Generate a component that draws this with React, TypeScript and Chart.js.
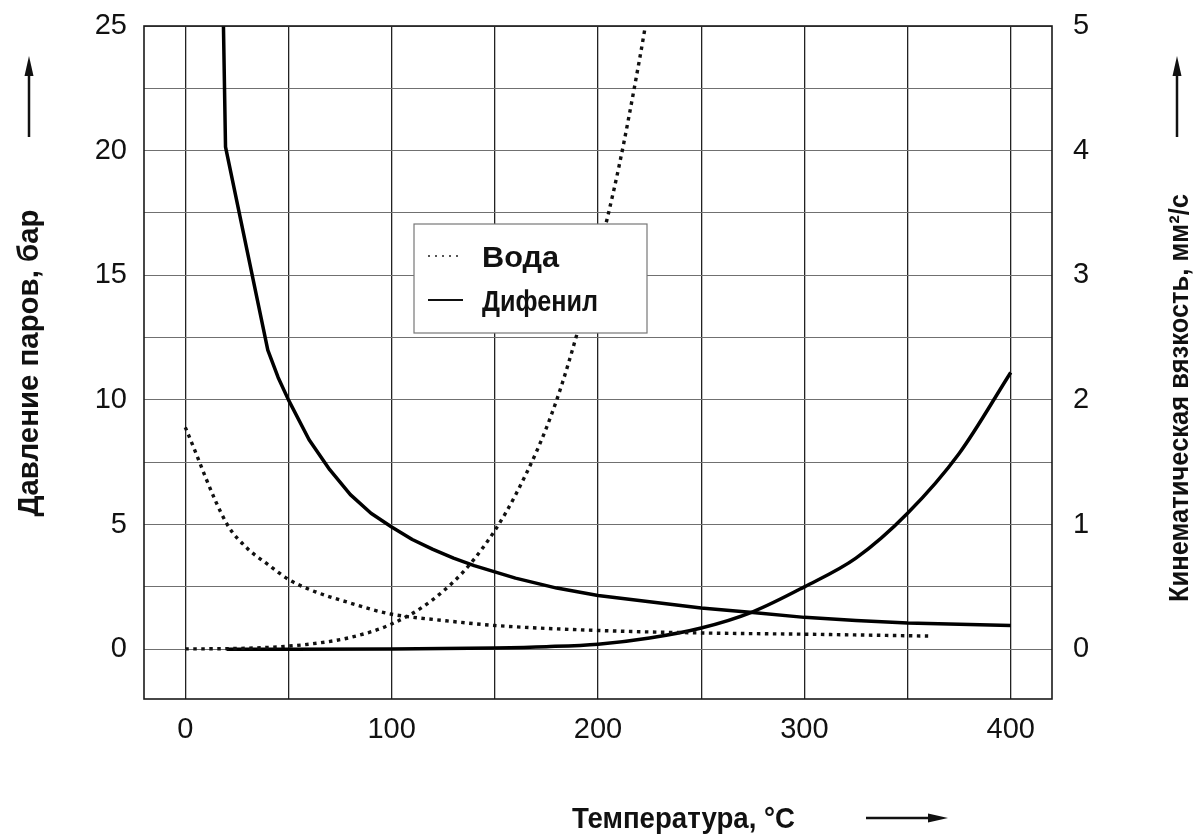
import React, { useEffect, useRef } from "react";
import { Chart, registerables } from "chart.js";

Chart.register(...registerables);

// ---------- data ----------
const waterPressureT = [0, 20, 40, 60, 80, 100, 120, 140, 160, 180, 200, 210, 220, 225];
const waterPressure = [0.01, 0.02, 0.07, 0.2, 0.47, 1.01, 1.99, 3.61, 6.18, 10.0, 15.8, 19.3, 23.6, 26.0];

const waterViscT = [0, 20, 30, 40, 50, 60, 70, 80, 90, 100, 125, 150, 200, 250, 300, 360];
const waterVisc = [1.78, 1.01, 0.81, 0.68, 0.56, 0.48, 0.42, 0.37, 0.32, 0.28, 0.23, 0.19, 0.15, 0.13, 0.12, 0.105];

const diphViscT = [18.5, 19.5, 40, 45, 50, 60, 70, 80, 90, 100, 110, 120, 130, 140, 150, 160, 180, 200, 225, 250, 275, 300, 325, 350, 375, 400];
const diphVisc = [5.0, 4.03, 2.4, 2.18, 2.0, 1.68, 1.44, 1.24, 1.09, 0.98, 0.88, 0.8, 0.73, 0.67, 0.62, 0.57, 0.49, 0.43, 0.38, 0.33, 0.295, 0.255, 0.23, 0.21, 0.2, 0.19];

const diphPressT = [20, 50, 100, 150, 175, 200, 225, 250, 275, 300, 325, 350, 375, 400];
const diphPress = [0, 0, 0.01, 0.05, 0.1, 0.2, 0.45, 0.85, 1.5, 2.5, 3.65, 5.45, 7.85, 11.1];

const legendLabels = ["Вода", "Дифенил"];
const xTitle = "Температура, °C";
const yTitle = "Давление паров, бар";
const y1Title = "Кинематическая вязкость, мм²/с";

const toPoints = (xs: number[], ys: number[]) => xs.map((x, i) => ({ x, y: ys[i] }));

const SANS = "'Liberation Sans', Arial, Helvetica, sans-serif";

function fillFitted(
  ctx: CanvasRenderingContext2D,
  text: string,
  x: number,
  y: number,
  targetWidth: number,
  font: string,
  align: CanvasTextAlign,
  rotate = 0
) {
  ctx.save();
  ctx.font = font;
  const w = ctx.measureText(text).width || 1;
  ctx.translate(x, y);
  if (rotate) ctx.rotate(rotate);
  ctx.scale(targetWidth / w, 1);
  ctx.textAlign = align;
  ctx.textBaseline = "alphabetic";
  ctx.fillStyle = "#111";
  ctx.fillText(text, 0, 0);
  ctx.restore();
}

function drawArrow(ctx: CanvasRenderingContext2D, x1: number, y1: number, x2: number, y2: number) {
  const ang = Math.atan2(y2 - y1, x2 - x1);
  const headLen = 20;
  const headW = 4.5;
  ctx.save();
  ctx.strokeStyle = "#111";
  ctx.fillStyle = "#111";
  ctx.lineWidth = 2.5;
  ctx.beginPath();
  ctx.moveTo(x1, y1);
  ctx.lineTo(x2 - Math.cos(ang) * headLen * 0.8, y2 - Math.sin(ang) * headLen * 0.8);
  ctx.stroke();
  ctx.beginPath();
  ctx.moveTo(x2, y2);
  ctx.lineTo(x2 - Math.cos(ang) * headLen - Math.sin(ang) * headW, y2 - Math.sin(ang) * headLen + Math.cos(ang) * headW);
  ctx.lineTo(x2 - Math.cos(ang) * headLen + Math.sin(ang) * headW, y2 - Math.sin(ang) * headLen - Math.cos(ang) * headW);
  ctx.closePath();
  ctx.fill();
  ctx.restore();
}

const decorPlugin = {
  id: "decor",
  afterDatasetsDraw(chart: any) {
    const ctx: CanvasRenderingContext2D = chart.ctx;
    const a = chart.chartArea;
    // frame
    ctx.save();
    ctx.strokeStyle = "#1a1a1a";
    ctx.lineWidth = 1.6;
    ctx.strokeRect(a.left, a.top, a.right - a.left, a.bottom - a.top);
    ctx.restore();

    // legend box
    const bx = 414, by = 224, bw = 233, bh = 109;
    ctx.save();
    ctx.fillStyle = "#fff";
    ctx.fillRect(bx, by, bw, bh);
    ctx.strokeStyle = "#777";
    ctx.lineWidth = 1.2;
    ctx.strokeRect(bx, by, bw, bh);
    const ds = chart.data.datasets;
    const widths = [77, 116];
    legendLabels.forEach((lab, i) => {
      const d = ds.find((s: any) => s.label === lab);
      const yy = by + 32 + i * 44;
      ctx.save();
      ctx.strokeStyle = i === 0 ? "#555" : "#111";
      ctx.lineWidth = i === 0 ? 1.8 : 2;
      if (d && d.borderDash && d.borderDash.length) ctx.setLineDash([2, 5]);
      ctx.beginPath();
      ctx.moveTo(bx + 14, yy);
      ctx.lineTo(bx + 49, yy);
      ctx.stroke();
      ctx.restore();
      fillFitted(ctx, lab, bx + 68, yy + 11, widths[i], `bold 29px ${SANS}`, "left");
    });
    ctx.restore();
  },
  afterDraw(chart: any) {
    const ctx: CanvasRenderingContext2D = chart.ctx;
    // axis titles (condensed bold)
    fillFitted(ctx, yTitle, 38, 363, 307, `bold 30px ${SANS}`, "center", -Math.PI / 2);
    fillFitted(ctx, y1Title, 1188, 398, 408, `bold 27px ${SANS}`, "center", -Math.PI / 2);
    fillFitted(ctx, xTitle, 572, 828, 223, `bold 30px ${SANS}`, "left");
    // arrows
    drawArrow(ctx, 29, 137, 29, 56);
    drawArrow(ctx, 1177, 137, 1177, 56);
    drawArrow(ctx, 866, 818, 948, 818);
  },
};

const zeroPadding = (s: any) => {
  s.paddingTop = 0;
  s.paddingBottom = 0;
  s.paddingLeft = 0;
  s.paddingRight = 0;
};

export default function App() {
  const ref = useRef<HTMLCanvasElement | null>(null);
  useEffect(() => {
    if (!ref.current) return;
    const tickFont = { family: SANS, size: 29 };
    const chart = new Chart(ref.current, {
      type: "line",
      data: {
        datasets: [
          {
            label: "Вода",
            data: toPoints(waterPressureT, waterPressure),
            yAxisID: "y",
            borderColor: "#111",
            borderWidth: 3.4,
            borderDash: [3.5, 4.5],
            pointRadius: 0,
            cubicInterpolationMode: "monotone",
            fill: false,
          },
          {
            label: "Вода",
            data: toPoints(waterViscT, waterVisc),
            yAxisID: "y1",
            borderColor: "#111",
            borderWidth: 3.4,
            borderDash: [3.5, 4.5],
            pointRadius: 0,
            cubicInterpolationMode: "monotone",
            fill: false,
          },
          {
            label: "Дифенил",
            data: toPoints(diphViscT, diphVisc),
            yAxisID: "y1",
            borderColor: "#000",
            borderWidth: 3.5,
            pointRadius: 0,
            tension: 0,
            borderJoinStyle: "round",
            fill: false,
          },
          {
            label: "Дифенил",
            data: toPoints(diphPressT, diphPress),
            yAxisID: "y",
            borderColor: "#000",
            borderWidth: 3.5,
            pointRadius: 0,
            cubicInterpolationMode: "monotone",
            fill: false,
          },
        ],
      },
      options: {
        animation: false,
        responsive: true,
        maintainAspectRatio: false,
        layout: { padding: { top: 26, left: 0, right: 0, bottom: 0 } },
        plugins: { legend: { display: false }, tooltip: { enabled: false } },
        scales: {
          x: {
            type: "linear",
            min: -20,
            max: 420,
            border: { display: false },
            grid: { color: "#222", lineWidth: 1.3, drawTicks: false },
            ticks: {
              stepSize: 50,
              includeBounds: false,
              autoSkip: false,
              maxRotation: 0,
              padding: 14,
              color: "#111",
              font: tickFont,
              callback: (v: any) => (v >= 0 && v % 100 === 0 ? String(v) : ""),
            },
            afterFit: (s: any) => {
              s.height = 135;
              zeroPadding(s);
            },
          },
          y: {
            type: "linear",
            position: "left",
            min: -2,
            max: 25,
            border: { display: false },
            grid: { color: "#707070", lineWidth: 1, drawTicks: false },
            ticks: {
              stepSize: 2.5,
              includeBounds: false,
              autoSkip: false,
              padding: 17,
              color: "#111",
              font: tickFont,
              callback: (v: any) => (v >= 0 && v % 5 === 0 ? String(v) : ""),
            },
            afterFit: (s: any) => {
              s.width = 144;
              zeroPadding(s);
            },
          },
          y1: {
            type: "linear",
            position: "right",
            min: -0.4,
            max: 5,
            border: { display: false },
            grid: { display: false, drawTicks: false },
            ticks: {
              stepSize: 1,
              includeBounds: false,
              autoSkip: false,
              padding: 21,
              color: "#111",
              font: tickFont,
              callback: (v: any) => (v >= 0 && Number.isInteger(v) ? String(v) : ""),
            },
            afterFit: (s: any) => {
              s.width = 142;
              zeroPadding(s);
            },
          },
        },
      },
      plugins: [decorPlugin],
    } as any);
    return () => chart.destroy();
  }, []);

  return (
    <div style={{ position: "absolute", left: 0, top: 0, width: 1194, height: 834, background: "#fff" }}>
      <canvas ref={ref} />
    </div>
  );
}
